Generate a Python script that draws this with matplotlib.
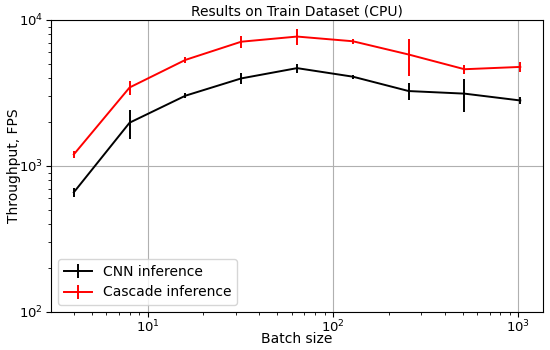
import matplotlib
matplotlib.use("Agg")
import matplotlib.pyplot as plt

batch_sizes = [4, 8, 16, 32, 64, 128, 256, 512, 1024]
cnn_fps = [660, 1980, 3030, 3980, 4680, 4090, 3260, 3130, 2810]
cnn_err = [50, 440, 120, 340, 350, 130, 420, 800, 150]
cascade_fps = [1200, 3450, 5330, 7100, 7700, 7150, 5800, 4600, 4770]
cascade_err = [70, 370, 290, 650, 940, 300, 1650, 330, 360]

fig = plt.figure(figsize=(5.5, 3.5), dpi=100)
ax = fig.add_axes([0.0936, 0.1086, 0.893, 0.8343])
ax.errorbar(batch_sizes, cnn_fps, yerr=cnn_err, color="black", lw=1.4,
            elinewidth=1.4, label="CNN inference")
ax.errorbar(batch_sizes, cascade_fps, yerr=cascade_err, color="red", lw=1.4,
            elinewidth=1.4, label="Cascade inference")
ax.set_xscale("log")
ax.set_yscale("log")
ax.set_ylim(100, 10000)
ax.grid(True, which="major", color="#b0b0b0", lw=0.8)
ax.set_title("Results on Train Dataset (CPU)", fontsize=10, pad=3)
ax.set_xlabel("Batch size", fontsize=10)
ax.set_ylabel("Throughput, FPS", fontsize=10)
ax.xaxis.set_label_coords(0.5, -0.07)
ax.yaxis.set_label_coords(-0.063, 0.5)
ax.tick_params(labelsize=9.5)
ax.tick_params(axis="x", pad=1.0)
ax.tick_params(axis="y", pad=2.5)
ax.legend(loc="lower left", fontsize=10)
fig.savefig("out.png", dpi=100)
